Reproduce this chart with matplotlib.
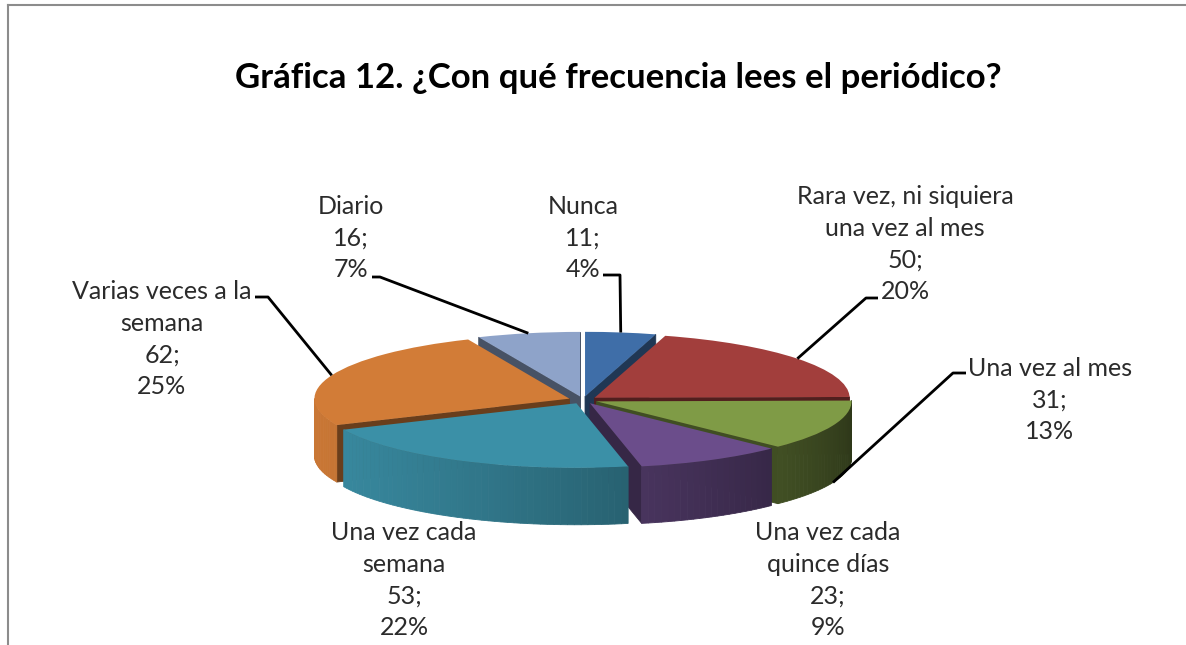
import numpy as np
import matplotlib
matplotlib.use("Agg")
import matplotlib.pyplot as plt
from matplotlib.patches import Polygon
from matplotlib.lines import Line2D
from matplotlib.colors import to_rgb

# data
labels = ["Nunca", "Rara vez, ni siquiera\nuna vez al mes", "Una vez al mes",
          "Una vez cada\nquince días", "Una vez cada\nsemana",
          "Varias veces a la\nsemana", "Diario"]
values = [11, 50, 31, 23, 53, 62, 16]
colors = ["#3F6EA8", "#A23E3C", "#7F9B46", "#6B4D8B", "#3B90A7", "#D27C37", "#8EA3C9"]
title = "Gráfica 12. ¿Con qué frecuencia lees el periódico?"

W, H = 1186, 645
CX, CY, RX, RY = 583, 400, 255, 64.5   # pie centre / radii in pixels
DEPTH = 57 / RY                         # wall height in y data units
EXPLODE = 0.057

plt.rcParams['font.family'] = ['Lato', 'DejaVu Sans']

def px(x, y):
    # pixel (from top-left) -> data
    return (x - CX) / RX, (CY - y) / RY

# label layout: text centre, leader elbow pixels, anchor at top/bottom of slice
lab_pos = [(583, 238), (905, 244), (1050, 400), (828, 580), (404, 580), (162, 339), (351, 238)]
lead_pts = [[(603, 275), (620, 275)], [(878, 298), (866, 298)], [(966, 373), (953, 373)],
            None, None, [(255, 297), (268, 297)], [(372, 277), (380, 277)]]
lead_bottom = [False, False, True, False, False, False, False]

fig = plt.figure(figsize=(W / 100, H / 100), dpi=100)
ax = fig.add_axes([0, 0, 1, 1])

wedges, _ = ax.pie(values, startangle=90, counterclock=False, colors=colors,
                   explode=[EXPLODE] * len(values), radius=1,
                   wedgeprops=dict(linewidth=0))
ax.set_aspect('auto')
x0, y1 = px(0, 0)
x1, y0 = px(W, H)
ax.set_xlim(x0, x1)
ax.set_ylim(y0, y1)
ax.axis('off')

def shade(c, f):
    r, g, b = to_rgb(c)
    return (r * f, g * f, b * f)

# side walls (painter's order by depth)
faces = []
for w, c in zip(wedges, colors):
    w.set_zorder(20)
    cx, cy = w.center
    t1, t2 = w.theta1, w.theta2
    ts = np.linspace(t1, t2, max(int((t2 - t1) / 1.5), 2) + 1)
    for a, b in zip(ts[:-1], ts[1:]):
        m = np.radians((a + b) / 2)
        if np.sin(m) >= 0:
            continue
        ra, rb = np.radians(a), np.radians(b)
        pa = (cx + np.cos(ra), cy + np.sin(ra))
        pb = (cx + np.cos(rb), cy + np.sin(rb))
        poly = [pa, pb, (pb[0], pb[1] - DEPTH), (pa[0], pa[1] - DEPTH)]
        f = 0.36 + 0.6 * ((1 - np.cos(m)) / 2) ** 0.7
        faces.append((cy + np.sin(m), poly, shade(c, f)))
    for t, n in ((t1, t1 - 90), (t2, t2 + 90)):
        if np.sin(np.radians(n)) >= 0:
            continue
        r = np.radians(t)
        p = (cx + np.cos(r), cy + np.sin(r))
        poly = [(cx, cy), p, (p[0], p[1] - DEPTH), (cx, cy - DEPTH)]
        faces.append((cy + np.sin(r) / 2, poly, shade(c, 0.5)))

faces.sort(key=lambda f: -f[0])
for i, (_, poly, col) in enumerate(faces):
    ax.add_patch(Polygon(poly, closed=True, facecolor=col, edgecolor=col,
                         linewidth=0.6, zorder=2 + i * 0.01))

# labels and leader lines
total = sum(values)
for w, name, v, pos, pts, bot in zip(wedges, labels, values, lab_pos, lead_pts, lead_bottom):
    pct = round(v / total * 100)
    tx, ty = px(*pos)
    ax.text(tx, ty, f"{name}\n{v};\n{pct}%", ha='center', va='center', fontsize=18,
            color='#2b2b2b', linespacing=1.45, zorder=30)
    if pts is None:
        continue
    m = np.radians((w.theta1 + w.theta2) / 2)
    ex = w.center[0] + np.cos(m)
    ey = w.center[1] + np.sin(m) - (DEPTH if bot else 0)
    xs = [px(*p)[0] for p in pts] + [ex]
    ys = [px(*p)[1] for p in pts] + [ey]
    ax.plot(xs, ys, color='black', linewidth=2, zorder=25, solid_capstyle='butt')

fig.text(618 / W, 1 - 78 / H, title, ha='center', va='center', fontsize=25,
         fontweight='bold', color='black')

# chart frame
fig.add_artist(Line2D([8 / W, 1], [1 - 5 / H, 1 - 5 / H], color='#8c8c8c', linewidth=1.5))
fig.add_artist(Line2D([8 / W, 8 / W], [0, 1 - 5 / H], color='#8c8c8c', linewidth=1.5))

fig.savefig("out.png", dpi=100)
